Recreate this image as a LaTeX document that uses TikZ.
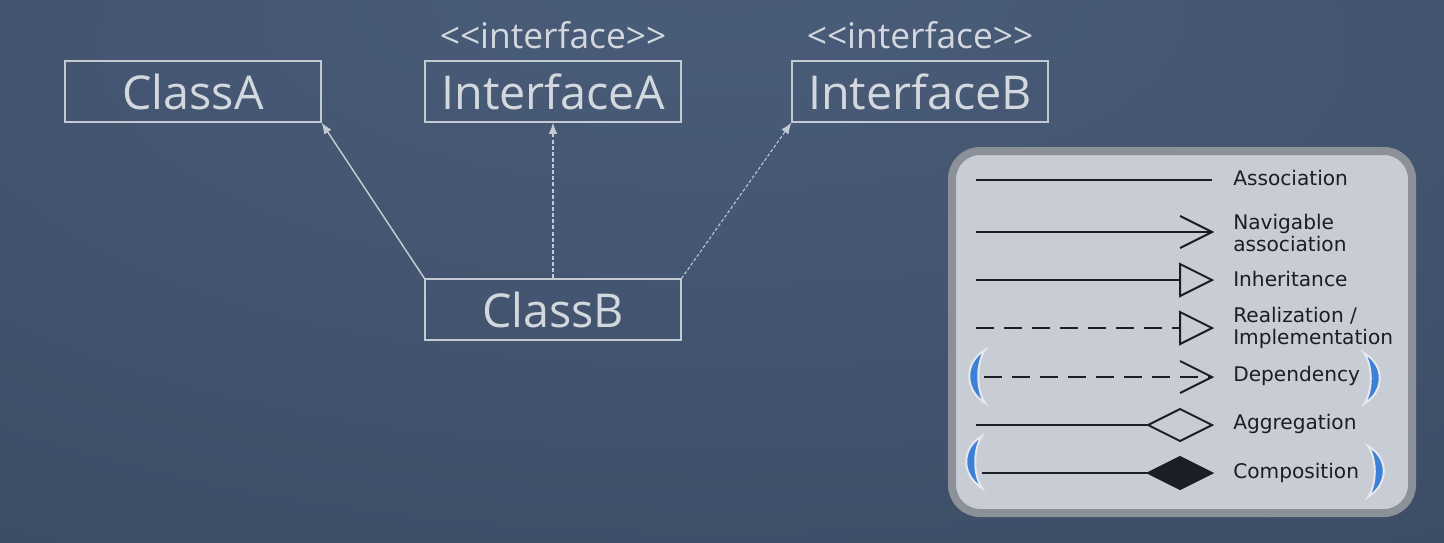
\documentclass[tikz,border=0pt]{standalone}
\usepackage{fontspec}
\setmainfont{Open Sans}[Ligatures=TeXOff]
\newfontfamily\legendfont{DejaVu Sans}
\usepackage{xcolor}
\usetikzlibrary{arrows.meta}

\definecolor{bgin}{HTML}{4A5D7A}
\definecolor{bgout}{HTML}{37465D}
\definecolor{umlline}{HTML}{C3CAD4}
\definecolor{umltext}{HTML}{D3D8DF}
\definecolor{legendfill}{HTML}{C8CCD4}
\definecolor{legendborder}{HTML}{8B9099}
\definecolor{legendink}{HTML}{1B1E25}
\definecolor{parenblue}{HTML}{3C80D8}

\pgfdeclareradialshading{bgglow}{\pgfpoint{0bp}{32bp}}{
  color(0bp)=(bgin); color(20bp)=(bgin!70!bgout); color(60bp)=(bgout)}

\tikzset{
  umlbox/.style={draw=umlline, line width=0.8pt, minimum width=192pt, minimum height=45.75pt,
                 inner sep=0pt, text=umltext, font=\fontsize{35}{40}\selectfont},
  stereo/.style={text=umltext, inner sep=0pt, font=\fontsize{26.5}{30}\selectfont},
  umlarrow/.style={draw=umlline, line width=1.1pt, -{Latex[length=8.5pt,width=6.5pt]}},
  ink/.style={draw=legendink, line width=1.5pt},
  legendlabel/.style={anchor=west, inner sep=0pt, text=legendink, align=left,
                      font=\legendfont\fontsize{15.1}{16}\selectfont},
  paren/.style={fill=parenblue, draw=white!55!legendfill, line width=1.5pt}
}

\begin{document}
\begin{tikzpicture}[x=0.75pt, y=-0.75pt]
    % Background
    \useasboundingbox (0,0) rectangle (1444,542);
    \shade[shading=bgglow] (0,0) rectangle (1444,542);

    % Class boxes
    \node[umlbox] (classA) at (193,91.5) {ClassA};
    \node[umlbox] (ifaceA) at (553,91.5) {InterfaceA};
    \node[umlbox] (ifaceB) at (920,91.5) {InterfaceB};
    \node[umlbox] (classB) at (553,309.5) {ClassB};

    % Stereotypes
    \node[stereo] (stereoA) at (553,35) {<<interface>>};
    \node[stereo] (stereoB) at (920,35) {<<interface>>};

    % Relations
    \draw[umlarrow] (classB.north west) -- (classA.south east);
    \draw[umlarrow, dash pattern=on 3pt off 1.6pt] (classB.north) -- (ifaceA.south);
    \draw[umlarrow, line width=0.8pt, dash pattern=on 2.4pt off 1.6pt] (classB.north east) -- (ifaceB.south west);

    % --- Legend ---
    \draw[line width=6pt, draw=legendborder, fill=legendfill, rounded corners=21pt]
        (952,151) rectangle (1412,513);

    % Association
    \draw[ink] (976,180) -- (1212,180);
    \node[legendlabel] (lAssoc) at (1233,178) {Association};

    % Navigable association
    \draw[ink] (976,232) -- (1211,232);
    \draw[ink, line join=miter] (1180,216) -- (1212,232) -- (1180,248);
    \node[legendlabel] (lNav) at (1233,233) {Navigable\\association};

    % Inheritance
    \draw[ink] (976,280) -- (1180,280);
    \draw[ink, line join=miter] (1180,264) -- (1212,280) -- (1180,296) -- cycle;
    \node[legendlabel] (lInh) at (1233,279) {Inheritance};

    % Realization
    \draw[ink, dash pattern=on 13.5pt off 7.5pt] (976,328) -- (1180,328);
    \draw[ink, line join=miter] (1180,312) -- (1212,328) -- (1180,344) -- cycle;
    \node[legendlabel] (lReal) at (1233,328) {Realization /\\Implementation};

    % Dependency
    \draw[ink, dash pattern=on 13.5pt off 7.5pt] (984,377) -- (1211,377);
    \draw[ink, line join=miter] (1180,361) -- (1212,377) -- (1180,393);
    \node[legendlabel] (lDep) at (1233,376) {Dependency};

    % Aggregation
    \draw[ink] (976,425) -- (1148,425);
    \draw[ink, line join=miter] (1148,425) -- (1180,409) -- (1212,425) -- (1180,441) -- cycle;
    \node[legendlabel] (lAgg) at (1233,424) {Aggregation};

    % Composition
    \draw[ink] (982,473) -- (1148,473);
    \draw[ink, fill=legendink, line join=miter] (1148,473) -- (1180,457) -- (1212,473) -- (1180,489) -- cycle;
    \node[legendlabel] (lComp) at (1233,473) {Composition};

    % Blue brackets
    \path[paren] (985,350) .. controls (964,362) and (964,390) .. (985,403)
                 .. controls (976,390) and (976,363) .. (985,350) -- cycle;
    \path[paren] (1364,353) .. controls (1385,365) and (1385,391) .. (1364,404)
                 .. controls (1373,391) and (1373,366) .. (1364,353) -- cycle;
    \path[paren] (982,436) .. controls (961,448) and (961,475) .. (982,488)
                 .. controls (973,475) and (973,449) .. (982,436) -- cycle;
    \path[paren] (1368,446) .. controls (1389,458) and (1389,484) .. (1368,497)
                 .. controls (1377,484) and (1377,459) .. (1368,446) -- cycle;
\end{tikzpicture}
\end{document}
